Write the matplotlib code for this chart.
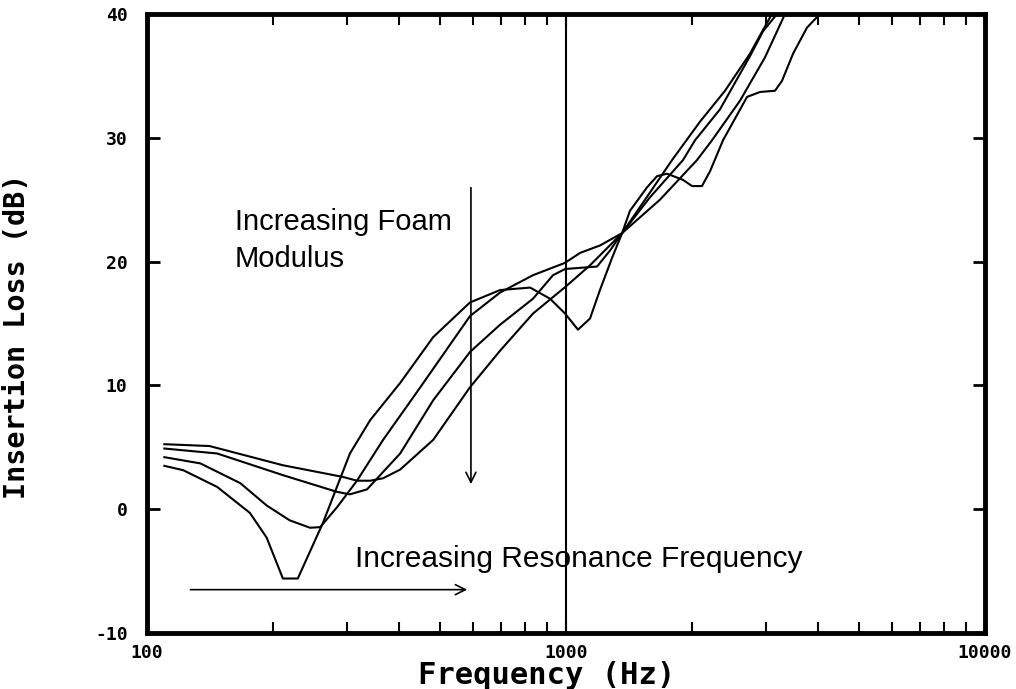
import matplotlib
matplotlib.use("Agg")
import matplotlib.pyplot as plt
from matplotlib.ticker import FixedLocator, NullFormatter

# insertion loss curves, one per foam modulus (lowest modulus first)
freq_1 = [110, 122, 147, 176, 193, 211, 229, 263, 305, 341, 402, 482, 590, 696, 821, 916,
          995, 1068, 1141, 1205, 1288, 1361, 1421, 1561, 1649, 1742, 1902, 1999, 2111, 2207,
          2370, 2704, 2904, 3153, 3277, 3483, 3760, 4037]
loss_1 = [3.5, 3.15, 1.8, -0.3, -2.3, -5.6, -5.6, -1.1, 4.5, 7.2, 10.2, 13.9, 16.7, 17.7, 17.9, 17.0,
          15.8, 14.5, 15.4, 17.7, 20.3, 22.3, 24.1, 26.0, 26.9, 27.1, 26.6, 26.1, 26.1, 27.3,
          29.8, 33.3, 33.7, 33.8, 34.6, 36.8, 38.9, 40.0]

freq_2 = [110, 134, 167, 193, 219, 245, 259, 284, 317, 366, 448, 590, 696, 834, 995, 1080,
          1205, 1361, 1544, 1791, 2088, 2396, 2749, 2985, 3101]
loss_2 = [4.2, 3.7, 2.1, 0.3, -0.9, -1.5, -1.45, 0.15, 2.3, 5.6, 9.8, 15.6, 17.5, 18.9, 19.9, 20.7,
          21.3, 22.3, 25.0, 28.2, 31.3, 33.8, 36.8, 39.0, 40.0]

freq_3 = [110, 147, 211, 284, 305, 335, 402, 482, 590, 696, 834, 931, 995, 1186, 1274, 1361,
          1587, 1902, 2032, 2331, 2749, 2952, 3188]
loss_3 = [4.9, 4.5, 2.75, 1.4, 1.2, 1.6, 4.5, 8.8, 12.7, 14.9, 17.0, 18.9, 19.4, 19.6, 20.9, 22.3,
          25.2, 28.2, 29.8, 32.3, 36.6, 38.6, 40.0]

freq_4 = [110, 141, 211, 294, 317, 341, 366, 402, 482, 590, 696, 834, 1000, 1141, 1361, 1676,
          2054, 2231, 2602, 2985, 3332]
loss_4 = [5.25, 5.1, 3.55, 2.6, 2.3, 2.3, 2.5, 3.2, 5.6, 9.85, 12.8, 15.8, 18.0, 19.7, 22.3, 25.0,
          28.2, 29.8, 33.0, 36.5, 40.0]

y_ticks = [-10, 0, 10, 20, 30, 40]
x_ticks = [100, 1000, 10000]
x_minor = [200, 300, 400, 500, 600, 700, 800, 900,
           2000, 3000, 4000, 5000, 6000, 7000, 8000, 9000]

label_font = "DejaVu Sans Mono"
note_font = ["Liberation Sans Narrow", "Liberation Sans", "DejaVu Sans"]

fig = plt.figure(figsize=(10.16, 6.89), dpi=100)
ax = fig.add_axes([0.1447, 0.0813, 0.8248, 0.8984])

for f, l in [(freq_1, loss_1), (freq_2, loss_2), (freq_3, loss_3), (freq_4, loss_4)]:
    ax.plot(f, l, color="black", lw=1.5)

ax.axvline(1000, color="black", lw=1.5)

ax.set_xscale("log")
ax.set_xlim(100, 10000)
ax.set_ylim(-10, 40)

ax.xaxis.set_major_locator(FixedLocator(x_ticks))
ax.xaxis.set_minor_locator(FixedLocator(x_minor))
ax.xaxis.set_minor_formatter(NullFormatter())
ax.set_xticklabels([str(t) for t in x_ticks])
ax.set_yticks(y_ticks)
ax.set_yticklabels([str(t) for t in y_ticks])

ax.tick_params(axis="x", which="both", direction="in", top=True, width=1.5)
ax.tick_params(axis="x", which="minor", length=8)
ax.tick_params(axis="x", which="major", length=8, pad=8)
ax.tick_params(axis="y", direction="in", right=True, length=9, width=2, pad=14)
for lab in ax.get_xticklabels() + ax.get_yticklabels():
    lab.set_fontfamily(label_font)
    lab.set_fontweight("bold")
    lab.set_fontsize(13)

for s in ax.spines.values():
    s.set_linewidth(3.5)

ax.set_xlabel("Frequency (Hz)", fontfamily=label_font, fontweight="bold", fontsize=22)
ax.xaxis.set_label_coords(0.477, -0.045)
ax.set_ylabel("Insertion Loss (dB)", fontfamily=label_font, fontweight="bold", fontsize=20.5)
ax.yaxis.set_label_coords(-0.138, 0.48)

# annotations
ax.text(162, 24.3, "Increasing Foam\nModulus", family=note_font, fontsize=21,
        ha="left", va="top", linespacing=1.38)
ax.annotate("", xy=(593, 1.8), xytext=(593, 26.2),
            arrowprops=dict(arrowstyle="->", lw=1.2, color="black", mutation_scale=18))
ax.text(314, -4.7, "Increasing Resonance Frequency", family=note_font, fontsize=21.5,
        ha="left", va="baseline")
ax.annotate("", xy=(590, -6.5), xytext=(125, -6.5),
            arrowprops=dict(arrowstyle="->", lw=1.2, color="black", mutation_scale=18))

fig.savefig("out.png", dpi=100, facecolor="white")
